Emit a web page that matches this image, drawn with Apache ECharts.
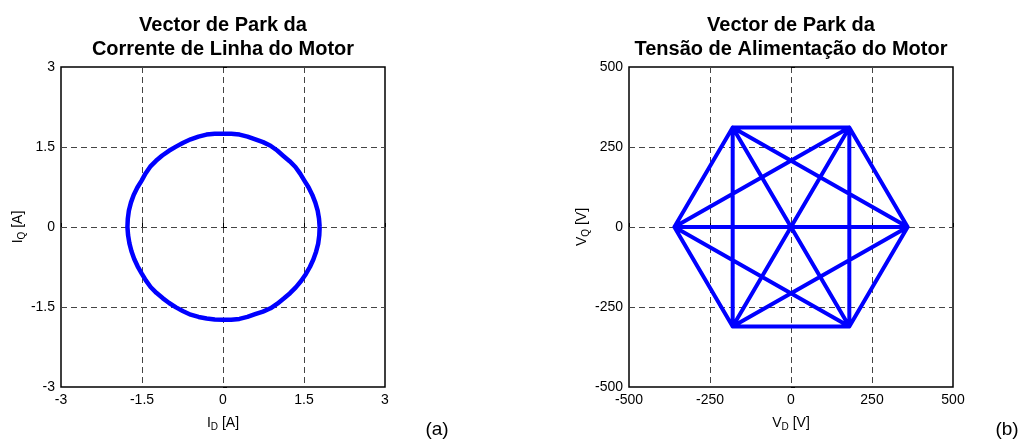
<!DOCTYPE html>
<html>
<head>
<meta charset="utf-8">
<title>Vector de Park</title>
<script src="https://cdn.jsdelivr.net/npm/echarts@6/dist/echarts.min.js"></script>
<style>
  html, body { margin: 0; padding: 0; background: #fff; }
  #chart { width: 1024px; height: 441px; }
</style>
</head>
<body>
<div id="chart"></div>
<script>
// corrente de linha: pontos (a), [I_D, I_Q] em A
var currentPoints = [
  [1.79, 0.00], [1.778, 0.156], [1.753, 0.309], [1.710, 0.458], [1.654, 0.602],
  [1.586, 0.740], [1.507, 0.870], [1.429, 1.001], [1.341, 1.125], [1.234, 1.234],
  [1.118, 1.333], [1.004, 1.434], [0.880, 1.524], [0.742, 1.591], [0.599, 1.644],
  [0.454, 1.695], [0.306, 1.733], [0.153, 1.748], [0.00, 1.75], [-0.153, 1.748],
  [-0.306, 1.733], [-0.454, 1.695], [-0.599, 1.644], [-0.737, 1.581], [-0.870, 1.507],
  [-1.001, 1.429], [-1.125, 1.341], [-1.241, 1.241], [-1.348, 1.131], [-1.434, 1.004],
  [-1.507, 0.870], [-1.586, 0.740], [-1.654, 0.602], [-1.705, 0.457], [-1.743, 0.307],
  [-1.763, 0.154], [-1.77, 0.00], [-1.758, -0.154], [-1.733, -0.306], [-1.695, -0.454],
  [-1.644, -0.599], [-1.581, -0.737], [-1.507, -0.870], [-1.429, -1.001], [-1.341, -1.125],
  [-1.234, -1.234], [-1.118, -1.333], [-0.998, -1.425], [-0.870, -1.507], [-0.737, -1.581],
  [-0.599, -1.644], [-0.452, -1.686], [-0.302, -1.714], [-0.152, -1.733], [0.00, -1.74],
  [0.152, -1.738], [0.304, -1.723], [0.452, -1.686], [0.595, -1.635], [0.740, -1.586],
  [0.880, -1.524], [1.007, -1.438], [1.125, -1.341], [1.241, -1.241], [1.348, -1.131],
  [1.446, -1.012], [1.533, -0.885], [1.609, -0.750], [1.673, -0.609], [1.724, -0.462],
  [1.763, -0.311], [1.783, -0.156], [1.79, 0.00]
];

// tensao: vertices do hexagono (V) e sequencia de estados percorrida
var voltVD = [360, 180, -180, -360, -180, 180];
var voltVQ = [0, 311, 311, 0, -311, -311];
var voltPath = [0, 1, 2, 3, 4, 5, 0, 2, 4, 0, 3, 1, 5, 3, 4, 1, 2, 5];

var currentTicks = { min: -3, max: 3, interval: 1.5 };
var voltTicks = { min: -500, max: 500, interval: 250 };

var FONT = "'Liberation Sans', Arial, Helvetica, sans-serif";

var voltPoints = voltPath.map(function (k) { return [voltVD[k], voltVQ[k]]; });

function makeGrid(left) {
  return {
    left: left, top: 67, width: 324, height: 320,
    show: true, borderColor: '#000', borderWidth: 1.5, backgroundColor: 'transparent'
  };
}

function makeAxis(idx, ticks, name, sub, unit, isY) {
  return {
    type: 'value',
    gridIndex: idx,
    min: ticks.min, max: ticks.max, interval: ticks.interval,
    name: '{m|' + name + '}{s|' + sub + '}{m| ' + unit + '}',
    nameLocation: 'middle',
    nameGap: isY ? 34 : 27,
    nameTextStyle: {
      rich: {
        m: { fontSize: 14, fontFamily: FONT, color: '#000', lineHeight: 18 },
        s: { fontSize: 10, fontFamily: FONT, color: '#000', lineHeight: 10, verticalAlign: 'bottom' }
      }
    },
    axisLine: { show: false },
    axisTick: { show: true, inside: true, length: 4, lineStyle: { color: '#000' } },
    axisLabel: { color: '#000', fontSize: 14, fontFamily: FONT, margin: 6 },
    splitLine: {
      show: true, showMinLine: false, showMaxLine: false,
      lineStyle: { color: '#444', width: 1, type: [6, 4] }
    }
  };
}

function makeTitle(text, center) {
  return {
    text: text,
    left: center, top: 13, textAlign: 'center', padding: 0,
    textStyle: { fontSize: 20, fontWeight: 'bold', lineHeight: 24, color: '#000', fontFamily: FONT }
  };
}

function makeLabel(text, x, y) {
  return {
    type: 'text', x: x, y: y,
    style: {
      text: text, fill: '#000', font: '19px ' + FONT,
      align: 'center', verticalAlign: 'middle',
      textAlign: 'center', textVerticalAlign: 'middle'
    }
  };
}

var chart = echarts.init(document.getElementById('chart'));
chart.setOption({
  animation: false,
  title: [
    makeTitle('Vector de Park da\nCorrente de Linha do Motor', 223),
    makeTitle('Vector de Park da\nTensão de Alimentação do Motor', 791)
  ],
  grid: [makeGrid(61), makeGrid(629)],
  xAxis: [
    makeAxis(0, currentTicks, 'I', 'D', '[A]', false),
    makeAxis(1, voltTicks, 'V', 'D', '[V]', false)
  ],
  yAxis: [
    makeAxis(0, currentTicks, 'I', 'Q', '[A]', true),
    makeAxis(1, voltTicks, 'V', 'Q', '[V]', true)
  ],
  series: [
    {
      type: 'line', xAxisIndex: 0, yAxisIndex: 0,
      data: currentPoints, showSymbol: false, smooth: false,
      lineStyle: { color: '#0000ff', width: 4.5, join: 'round' }
    },
    {
      type: 'line', xAxisIndex: 1, yAxisIndex: 1,
      data: voltPoints, showSymbol: false, smooth: false,
      lineStyle: { color: '#0000ff', width: 4, join: 'round', cap: 'round' }
    }
  ],
  graphic: [
    makeLabel('(a)', 437, 430),
    makeLabel('(b)', 1007, 430)
  ]
});
</script>
</body>
</html>
